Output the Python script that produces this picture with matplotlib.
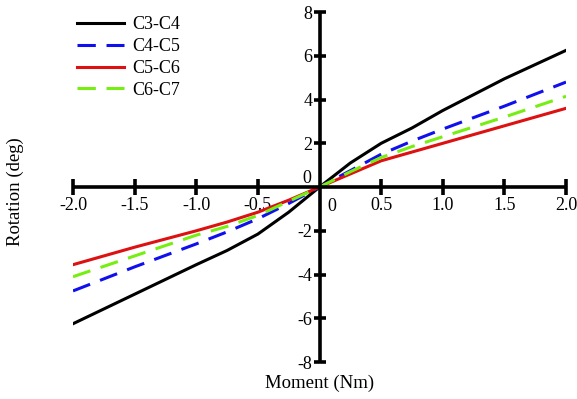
import matplotlib.pyplot as plt

plt.rcParams['font.family'] = ['Liberation Serif', 'DejaVu Serif']

moment = [-2.0, -1.5, -1.0, -0.75, -0.5, -0.25, 0.0, 0.25, 0.5, 0.75, 1.0, 1.5, 2.0]
c3_c4 = [-6.25, -4.9, -3.55, -2.9, -2.15, -1.15, 0.0, 1.1, 2.0, 2.7, 3.5, 4.95, 6.25]
c4_c5 = [-4.75, -3.65, -2.6, -2.05, -1.45, -0.75, 0.0, 0.75, 1.5, 2.1, 2.65, 3.7, 4.8]
c5_c6 = [-3.55, -2.75, -2.0, -1.6, -1.15, -0.6, 0.0, 0.6, 1.2, 1.6, 2.0, 2.8, 3.6]
c6_c7 = [-4.1, -3.15, -2.2, -1.8, -1.3, -0.65, 0.0, 0.7, 1.35, 1.85, 2.3, 3.2, 4.15]

x_ticks = [-2.0, -1.5, -1.0, -0.5, 0.5, 1.0, 1.5, 2.0]
y_ticks = [-8, -6, -4, -2, 2, 4, 6, 8]

fig = plt.figure(figsize=(5.77, 3.99), dpi=100)
ax = fig.add_axes([0.1265, 0.0927, 0.8545, 0.877])

ax.plot(moment, c3_c4, color='black', lw=2.2, label='C3-C4')
ax.plot(moment, c4_c5, color='#1010ee', lw=2.2, dashes=(6, 3.5), label='C4-C5')
ax.plot(moment, c5_c6, color='#dd1111', lw=2.2, label='C5-C6')
ax.plot(moment, c6_c7, color='#77ee11', lw=2.2, dashes=(6, 3.5), label='C6-C7')

ax.set_xlim(-2.0, 2.0)
ax.set_ylim(-8, 8)

# axes through the origin
ax.spines['left'].set_position('zero')
ax.spines['bottom'].set_position('zero')
ax.spines['right'].set_visible(False)
ax.spines['top'].set_visible(False)
for s in ['left', 'bottom']:
    ax.spines[s].set_linewidth(2.6)
    ax.spines[s].set_capstyle('butt')

fs = 13

ax.set_xticks(x_ticks)
ax.set_xticklabels([f'{v:.1f}' for v in x_ticks])
ax.set_yticks(y_ticks)
ax.set_yticklabels([str(v) for v in y_ticks])
ax.tick_params(axis='x', direction='inout', length=12, width=2.6, labelsize=fs, pad=1)
ax.tick_params(axis='y', direction='inout', length=8, width=2.6, labelsize=fs, pad=1)

ax.text(0.06, -0.5, '0', fontsize=fs, ha='left', va='top')
ax.text(-0.07, 0.0, '0', fontsize=fs, ha='right', va='bottom')

fig.text(0.026, 0.52, 'Rotation (deg)', rotation=90, fontsize=fs + 0.5, ha='center', va='center')
fig.text(0.554, 0.04, 'Moment (Nm)', fontsize=fs + 0.5, ha='center', va='center')

ax.legend(loc='upper left', bbox_to_anchor=(-0.025, 1.035), frameon=False, fontsize=fs,
          handlelength=2.6, handletextpad=0.45, labelspacing=0.27)

fig.savefig('out.png', dpi=100)
